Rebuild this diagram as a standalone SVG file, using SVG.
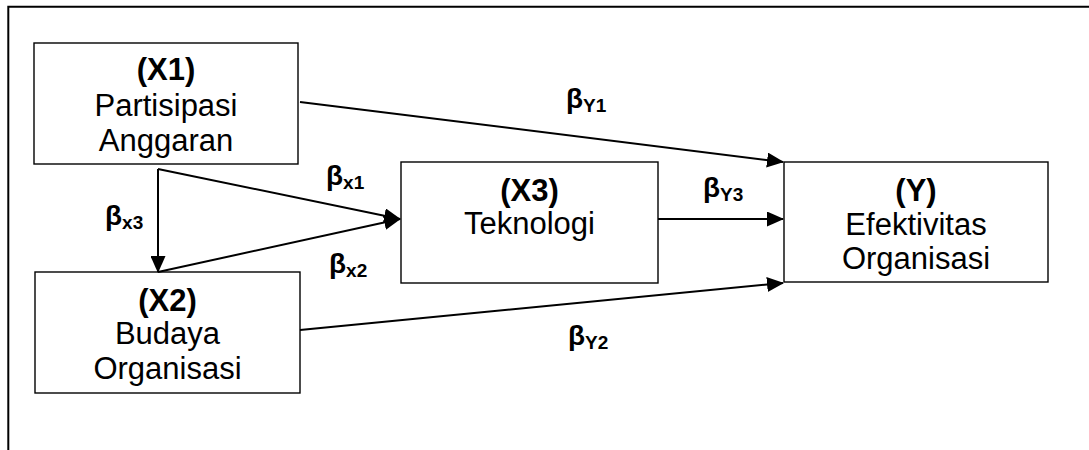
<svg xmlns="http://www.w3.org/2000/svg" width="1089" height="450" viewBox="0 0 1089 450">
<style>
.box{fill:#fff;stroke:#000;stroke-width:1.4}
.t{font-family:"Liberation Sans",Arial,sans-serif;font-size:31px;fill:#000;text-anchor:middle}
.b{font-weight:bold}
.lbl{font-family:"Liberation Sans",Arial,sans-serif;font-weight:bold;font-size:28px;fill:#000}
.sub{font-size:19px}
.c{stroke:#000;stroke-width:2;fill:none}
.frame{stroke:#000;stroke-width:2;fill:none}
</style>
<defs>
<marker id="ah" markerUnits="userSpaceOnUse" markerWidth="17" markerHeight="15" refX="16" refY="7.5" orient="auto">
<path d="M0,0 L17,7.5 L0,15 z" fill="#000"/>
</marker>
</defs>
<path class="frame" d="M8.3,450 L8.3,6.7 L1089,6.7"/>
<g id="X1"><rect class="box" x="34" y="43" width="264" height="121"/>
<text class="t b" x="166" y="80">(X1)</text>
<text class="t" x="166" y="116">Partisipasi</text>
<text class="t" x="166" y="151">Anggaran</text></g>
<g id="X2"><rect class="box" x="35" y="272" width="265" height="121"/>
<text class="t b" x="167.5" y="311">(X2)</text>
<text class="t" x="167.5" y="344">Budaya</text>
<text class="t" x="167.5" y="379">Organisasi</text></g>
<g id="X3"><rect class="box" x="401" y="162" width="257" height="121"/>
<text class="t b" x="529.5" y="201">(X3)</text>
<text class="t" x="529.5" y="234">Teknologi</text></g>
<g id="Y"><rect class="box" x="784" y="162" width="264" height="120"/>
<text class="t b" x="916" y="201">(Y)</text>
<text class="t" x="916" y="235">Efektivitas</text>
<text class="t" x="916" y="269">Organisasi</text></g>
<g id="connectors">
<line class="c" x1="300" y1="102" x2="783" y2="162" marker-end="url(#ah)"/>
<line class="c" x1="658" y1="219" x2="783" y2="219" marker-end="url(#ah)"/>
<line class="c" x1="300" y1="330" x2="783" y2="283" marker-end="url(#ah)"/>
<line class="c" x1="158" y1="169" x2="158" y2="272" marker-end="url(#ah)"/>
<line class="c" x1="158" y1="169" x2="400" y2="219" marker-end="url(#ah)"/>
<line class="c" x1="158" y1="272" x2="400" y2="219" marker-end="url(#ah)"/>
</g>
<g id="labels">
<text class="lbl" x="566" y="108">β<tspan class="sub" dy="4">Y1</tspan></text>
<text class="lbl" x="326" y="185">β<tspan class="sub" dy="4">x1</tspan></text>
<text class="lbl" x="329" y="273">β<tspan class="sub" dy="4">x2</tspan></text>
<text class="lbl" x="105" y="225">β<tspan class="sub" dy="4">x3</tspan></text>
<text class="lbl" x="703" y="197">β<tspan class="sub" dy="4">Y3</tspan></text>
<text class="lbl" x="568" y="345">β<tspan class="sub" dy="4">Y2</tspan></text>
</g>
</svg>
